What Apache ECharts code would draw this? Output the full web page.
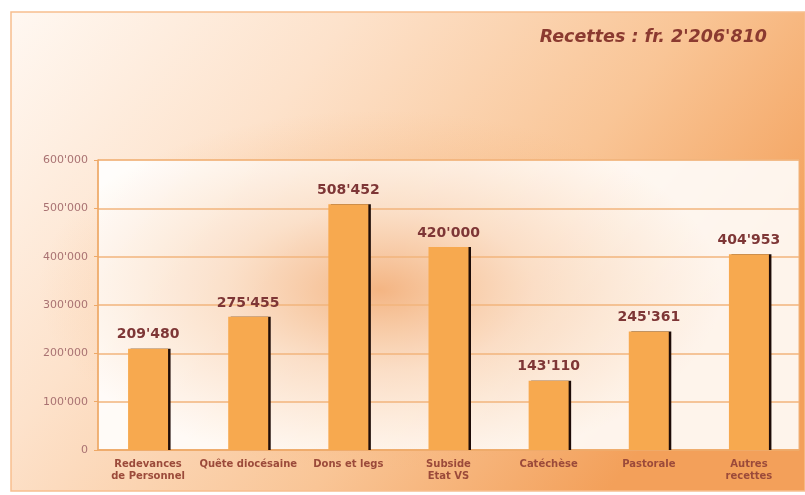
<!DOCTYPE html>
<html><head><meta charset="utf-8">
<script src="https://cdn.jsdelivr.net/npm/echarts@6/dist/echarts.min.js"></script>
<style>html,body{margin:0;padding:0;background:#fff;}#c{width:805px;height:495px;}</style>
</head><body><div id="c"></div>
<script>
const categories = ['Redevances\nde Personnel', 'Quête diocésaine', 'Dons et legs', 'Subside\nEtat VS', 'Catéchèse', 'Pastorale', 'Autres\nrecettes'];
const values = [209480, 275455, 508452, 420000, 143110, 245361, 404953];
const titleText = "Recettes : fr. 2'206'810";

function fmt(v){ return String(v).replace(/\B(?=(\d{3})+(?!\d))/g, "'"); }

const chart = echarts.init(document.getElementById('c'), null, {renderer:'canvas'});
chart.setOption({
  animation:false,
  backgroundColor:'#ffffff',
  graphic:[
    {type:'rect', z:-10, shape:{x:11,y:12,width:794,height:479},
     style:{fill:new echarts.graphic.LinearGradient(0,0,0.75,1,[
       {offset:0,color:'#fff8f2'},{offset:0.35,color:'#fde2cb'},{offset:0.7,color:'#f9c596'},{offset:1,color:'#f3a05a'}]),
       stroke:'#f7be8e', lineWidth:1.5}},
    {type:'rect', z:-9, shape:{x:98,y:160,width:701,height:290},
     style:{fill:'rgba(255,255,255,0.88)', stroke:'#f0b27a', lineWidth:1}},
    {type:'circle', z:-8, position:[380,290], scaleX:1.9, scaleY:1.0, shape:{cx:0,cy:0,r:180},
     style:{fill:new echarts.graphic.RadialGradient(0.5,0.5,0.5,[
       {offset:0,color:'rgba(236,135,55,0.6)'},{offset:0.45,color:'rgba(240,155,85,0.28)'},{offset:1,color:'rgba(245,170,100,0)'}])}},
    {type:'text', z:10, right:38, top:28,
     style:{text:titleText, fill:'#8b3a30', font:'italic bold 17.5px "DejaVu Sans"'}}
  ],
  grid:{left:98, right:6, top:160, bottom:45, containLabel:false},
  xAxis:{type:'category', data:categories,
    axisLine:{show:true, lineStyle:{color:'#eea866', width:1.5}},
    axisTick:{show:false},
    axisLabel:{color:'#9b4a3a', fontFamily:'DejaVu Sans', fontWeight:'bold', fontSize:10, margin:8, lineHeight:12, interval:0}
  },
  yAxis:{type:'value', min:0, max:600000, interval:100000,
    axisLine:{show:true, lineStyle:{color:'#eea866', width:1.5}},
    axisTick:{show:true, length:4, lineStyle:{color:'#eea866'}},
    splitLine:{show:true, lineStyle:{color:'#f2b47c', width:1.5}},
    axisLabel:{color:'#a97272', fontFamily:'DejaVu Sans', fontSize:11, margin:10, formatter:fmt}
  },
  series:[{type:'bar', data:values, barWidth:40,
    itemStyle:{color:'#f7a94f', shadowColor:'#1e0c08', shadowOffsetX:2.5, shadowOffsetY:0, shadowBlur:0},
    label:{show:true, position:'top', distance:7, formatter:p=>fmt(p.value),
      color:'#7e3636', fontFamily:'DejaVu Sans', fontWeight:'bold', fontSize:14}
  }]
});
</script></body></html>
